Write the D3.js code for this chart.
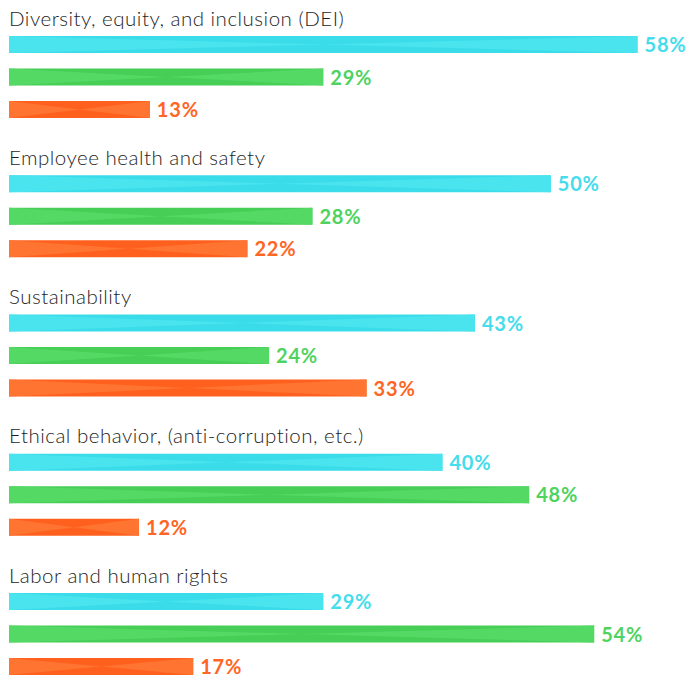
<!DOCTYPE html>
<html>
<head>
<meta charset="utf-8">
<script src="https://cdn.jsdelivr.net/npm/d3@7"></script>
<style>
  html, body { margin: 0; padding: 0; background: #ffffff; }
  svg { display: block; }
</style>
</head>
<body>
<script>
const categories = [
  "Diversity, equity, and inclusion (DEI)",
  "Employee health and safety",
  "Sustainability",
  "Ethical behavior, (anti-corruption, etc.)",
  "Labor and human rights"
];
const seriesNames = ["Series A", "Series B", "Series C"];
const seriesA = [58, 50, 43, 40, 29];
const seriesB = [29, 28, 24, 48, 54];
const seriesC = [13, 22, 33, 12, 17];
const seriesValues = [seriesA, seriesB, seriesC];

const W = 687, H = 677;
const colorsDark  = ["#3bdcea", "#46ce56", "#ff601e"];
const colorsLight = ["#4ae4ef", "#55d965", "#ff7431"];
const labelColors = ["#45dcec", "#4fd35f", "#ff6524"];

const svg = d3.select("body").append("svg").attr("width", W).attr("height", H);

const x = d3.scaleLinear().domain([0, 58]).range([9, 637.5]);
const yGroup = d3.scaleBand().domain(categories).range([36, 36 + 5 * 139.25]).paddingInner(0).paddingOuter(0);
const ySeries = d3.scaleBand().domain(seriesNames).range([0, 97.5]);
const barH = 17;

const data = [];
categories.forEach((c, i) => {
  seriesNames.forEach((s, j) => {
    data.push({ cat: c, ser: s, si: j, v: seriesValues[j][i] });
  });
});

// category labels
svg.selectAll("text.cat").data(categories).join("text")
  .attr("class", "cat")
  .attr("x", 9)
  .attr("y", d => yGroup(d) - 10.3)
  .attr("font-family", "Lato, 'Open Sans', sans-serif")
  .attr("font-weight", 300)
  .attr("font-size", 20.5)
  .attr("letter-spacing", 0.5)
  .attr("fill", "#1e1e1e")
  .text(d => d);

const g = svg.selectAll("g.bar").data(data).join("g").attr("class", "bar")
  .attr("transform", d => `translate(0,${yGroup(d.cat) + ySeries(d.ser)})`);

g.append("rect")
  .attr("x", x(0))
  .attr("y", 0)
  .attr("width", d => x(d.v) - x(0))
  .attr("height", barH)
  .attr("fill", d => colorsDark[d.si]);

// lighter left and right triangles (crossing pattern)
g.append("path")
  .attr("d", d => {
    const x0 = x(0), x1 = x(d.v), xm = (x0 + x1) / 2, ym = barH / 2;
    return `M${x0},0 L${xm},${ym} L${x0},${barH} Z M${x1},0 L${xm},${ym} L${x1},${barH} Z`;
  })
  .attr("fill", d => colorsLight[d.si]);

g.append("text")
  .attr("x", d => x(d.v) + 7)
  .attr("y", barH / 2)
  .attr("dy", "0.38em")
  .attr("font-family", "Lato, 'Open Sans', sans-serif")
  .attr("font-weight", 700)
  .attr("font-size", 20)
  .attr("letter-spacing", 0.8)
  .attr("fill", d => labelColors[d.si])
  .text(d => d.v + "%");
</script>
</body>
</html>
